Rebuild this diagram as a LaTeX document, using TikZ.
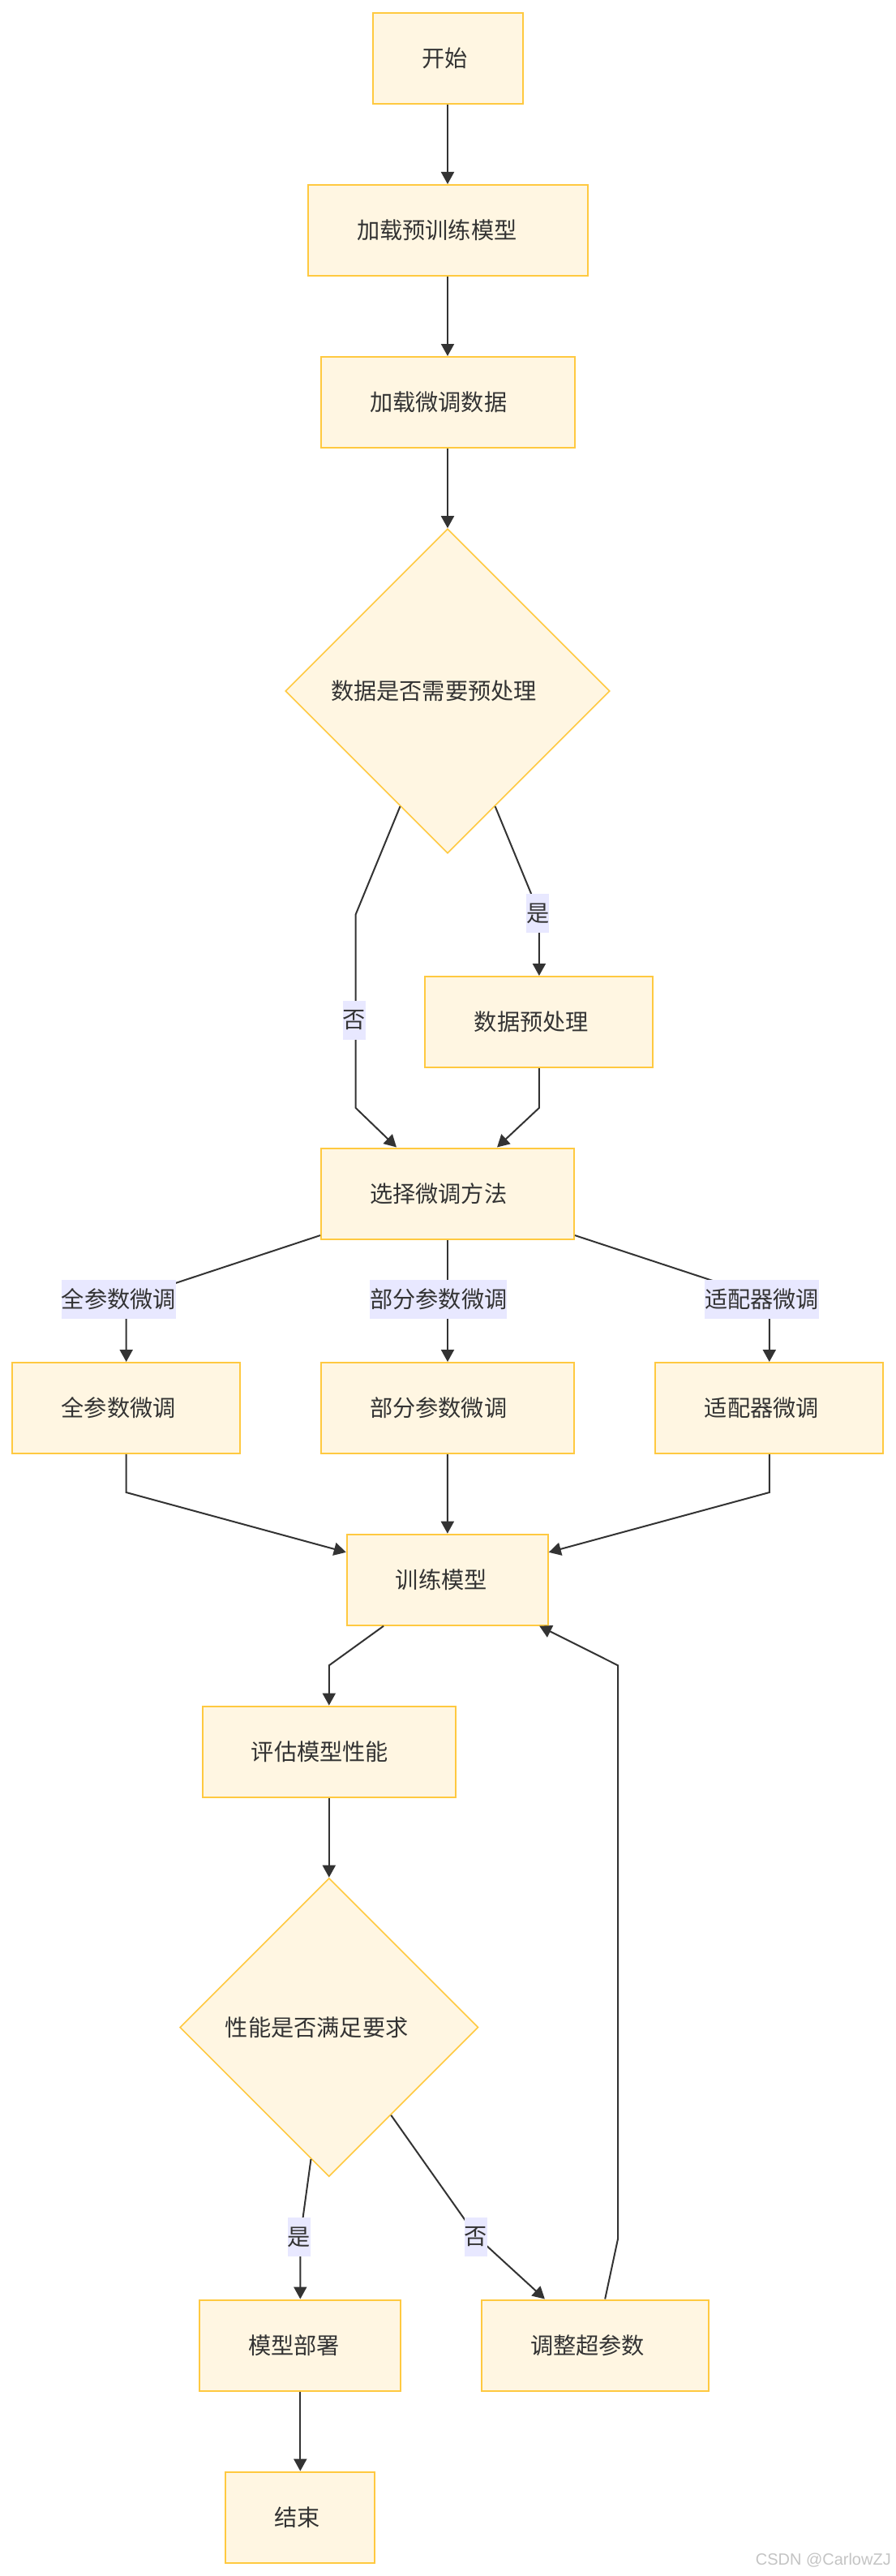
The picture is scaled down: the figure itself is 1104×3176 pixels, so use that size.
\documentclass[tikz,border=0pt]{standalone}
\usepackage{fontspec}
\newfontfamily\cjk{Noto Sans CJK SC}
\newfontfamily\wmfont{Liberation Sans}
\usetikzlibrary{arrows.meta,shapes.geometric,calc}
\definecolor{nfill}{HTML}{FFF6E2}
\definecolor{nstroke}{HTML}{FFC940}
\definecolor{lblbg}{HTML}{E8E8FF}
\definecolor{ink}{HTML}{333333}
\definecolor{wm}{HTML}{C4C4C4}
\newcommand{\tpad}[1]{\hspace{#1}\mbox{}}
\begin{document}
\begin{tikzpicture}[x=1pt,y=-1pt,
  txt/.style={font=\cjk\fontsize{28.2}{34}\selectfont, text=ink},
  box/.style={txt, draw=nstroke, fill=nfill, line width=2pt, minimum height=112pt, inner sep=0pt},
  dia/.style={txt, diamond, draw=nstroke, fill=nfill, line width=1.6pt, inner sep=0pt},
  edge/.style={draw=ink, line width=2pt, -{Triangle[length=15pt,width=16pt]}},
  lbl/.style={txt, fill=lblbg, inner sep=0pt, minimum height=47.7pt, anchor=west}]
\fill[white] (0,0) rectangle (1104,3176);
\useasboundingbox (0,0) rectangle (1104,3176);

% nodes
\node[box, minimum width=185pt] (start) at (552,72) {开始\tpad{7.6pt}};
\node[box, minimum width=345pt] (load1) at (552,284) {加载预训练模型\tpad{26.6pt}};
\node[box, minimum width=313pt] (load2) at (552,496) {加载微调数据\tpad{22.8pt}};
\node[dia, minimum width=400pt, minimum height=400pt] (d1) at (552,852) {数据是否需要预处理\tpad{34.2pt}};
\node[box, minimum width=281pt] (pre) at (664.8,1260) {数据预处理\tpad{19pt}};
\node[box, minimum width=312pt] (sel) at (552,1471.5) {选择微调方法\tpad{22.8pt}};
\node[box, minimum width=281pt] (full) at (155.7,1736) {全参数微调\tpad{19pt}};
\node[box, minimum width=312pt] (part) at (552,1736) {部分参数微调\tpad{22.8pt}};
\node[box, minimum width=281pt] (adp) at (948.8,1736) {适配器微调\tpad{19pt}};
\node[box, minimum width=248pt] (train) at (551.8,1947.7) {训练模型\tpad{15.2pt}};
\node[box, minimum width=312pt] (eval) at (405.8,2159.6) {评估模型性能\tpad{22.8pt}};
\node[dia, minimum width=368pt, minimum height=368pt] (d2) at (405.8,2499.5) {性能是否满足要求\tpad{30.4pt}};
\node[box, minimum width=248pt] (deploy) at (370.3,2891.5) {模型部署\tpad{15.2pt}};
\node[box, minimum width=280pt] (tune) at (734,2891.5) {调整超参数\tpad{19pt}};
\node[box, minimum width=184pt] (finish) at (370.3,3103.6) {结束\tpad{7.6pt}};

% bend points
\coordinate (c1) at (665,1126);
\coordinate (n1) at (438.7,1127.3);
\coordinate (n2) at (438.7,1366);
\coordinate (p1) at (664.8,1366);
\coordinate (f1) at (155.7,1602);
\coordinate (a1) at (948.8,1602);
\coordinate (b1) at (155.7,1840);
\coordinate (b2) at (948.8,1840);
\coordinate (e1) at (405.8,2053.3);
\coordinate (y1) at (370.3,2758);
\coordinate (q1) at (588.3,2758);
\coordinate (r1) at (762.1,2760);
\coordinate (r2) at (762.1,2053.3);

% edges
\draw[edge] (start) -- (load1);
\draw[edge] (load1) -- (load2);
\draw[edge] (load2) -- (d1);
\draw[edge] (d1) -- (c1) -- (pre);
\draw[edge] (d1) -- (n1) -- (n2) -- ($(sel.north)+(-63,0)$);
\draw[edge] (pre) -- (p1) -- ($(sel.north)+(61,0)$);
\draw[edge] (sel) -- (f1) -- (full);
\draw[edge] (sel) -- (part);
\draw[edge] (sel) -- (a1) -- (adp);
\draw[edge] (full) -- (b1) -- (train);
\draw[edge] (part) -- (train);
\draw[edge] (adp) -- (b2) -- (train);
\draw[edge] (train) -- (e1) -- (eval);
\draw[edge] (eval) -- (d2);
\draw[edge] (d2) -- (y1) -- (deploy);
\draw[edge] (d2) -- (q1) -- (tune);
\draw[edge] (deploy) -- (finish);
\draw[edge] (tune) -- (r1) -- (r2) -- (train);

% edge labels
\node[lbl] (lno1) at (422.7,1258) {否};
\node[lbl] (lyes1) at (649,1126) {是};
\node[lbl] (lfull) at (75.7,1602) {全参数微调};
\node[lbl] (lpart) at (456,1602) {部分参数微调};
\node[lbl] (ladp) at (868.8,1602) {适配器微调};
\node[lbl] (lyes2) at (354.3,2758) {是};
\node[lbl] (lno2) at (572.3,2758) {否};

% watermark
\node[anchor=base east, inner sep=0pt, font=\wmfont\fontsize{20}{24}\selectfont, text=wm] (wmk) at (1099,3162) {CSDN @CarlowZJ};
\end{tikzpicture}
\end{document}
